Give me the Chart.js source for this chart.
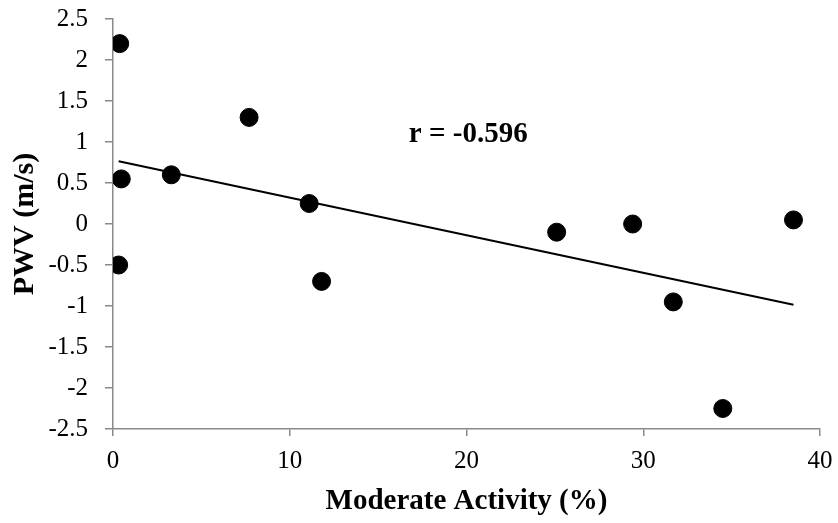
<!DOCTYPE html>
<html>
<head>
<meta charset="utf-8">
<script src="https://cdn.jsdelivr.net/npm/chart.js@4"></script>
<style>
html,body{margin:0;padding:0;background:#fff;}
#wrap{width:838px;height:523px;}
</style>
</head>
<body>
<div id="wrap"><canvas id="c" width="838" height="523"></canvas></div>
<script>
// Data
const moderateActivity = [0.38, 0.47, 0.32, 3.3, 7.7, 11.1, 11.8, 25.1, 29.4, 31.7, 34.5, 38.5];
const pwv = [2.2, 0.55, -0.5, 0.6, 1.3, 0.25, -0.7, -0.1, 0.0, -0.95, -2.25, 0.05];
const xTicks = [0, 10, 20, 30, 40];
const yTicks = [2.5, 2, 1.5, 1, 0.5, 0, -0.5, -1, -1.5, -2, -2.5];
const xTitle = 'Moderate Activity (%)';
const yTitle = 'PWV (m/s)';
const annotationPos = [20.1, 1.09];

// Least-squares trendline and correlation from the data
const n = moderateActivity.length;
const mx = moderateActivity.reduce((a,b)=>a+b,0)/n;
const my = pwv.reduce((a,b)=>a+b,0)/n;
let sxy=0, sxx=0, syy=0;
for (let i=0;i<n;i++){const dx=moderateActivity[i]-mx, dy=pwv[i]-my; sxy+=dx*dy; sxx+=dx*dx; syy+=dy*dy;}
const slope = sxy/sxx, intercept = my - slope*mx;
const r = sxy/Math.sqrt(sxx*syy);
const xMin = Math.min(...moderateActivity), xMax = Math.max(...moderateActivity);
const trend = [{x:xMin, y:intercept+slope*xMin},{x:xMax, y:intercept+slope*xMax}];

const points = moderateActivity.map((x,i)=>({x:x, y:pwv[i]}));
const FONT = "'Liberation Serif', 'Times New Roman', serif";
const AXIS = '#898989';

const annotate = {
  id:'annotate',
  afterDatasetsDraw(chart){
    const ctx = chart.ctx;
    const xs = chart.scales.x, ys = chart.scales.y;
    ctx.save();
    ctx.font = 'bold 29px ' + FONT;
    ctx.fillStyle = '#000';
    ctx.textAlign = 'center';
    ctx.textBaseline = 'middle';
    ctx.fillText('r = ' + r.toFixed(3), xs.getPixelForValue(annotationPos[0]), ys.getPixelForValue(annotationPos[1]));
    ctx.restore();
  }
};

new Chart(document.getElementById('c'), {
  type:'scatter',
  data:{
    datasets:[
      {label:'trend', type:'line', data:trend, borderColor:'#000', borderWidth:2, pointRadius:0, fill:false, order:2},
      {label:'PWV', data:points, backgroundColor:'#000', borderColor:'#000', pointRadius:9, pointHoverRadius:9, order:1}
    ]
  },
  options:{
    responsive:false,
    animation:false,
    devicePixelRatio:1,
    layout:{padding:{left:0,right:18,top:19,bottom:0}},
    plugins:{legend:{display:false}, tooltip:{enabled:false}},
    scales:{
      x:{
        type:'linear', min:0, max:40,
        afterBuildTicks(s){ s.ticks = xTicks.map(v=>({value:v})); },
        afterFit(s){ s.height = 94; s.paddingLeft = 0; s.paddingRight = 0; },
        grid:{display:true, drawOnChartArea:false, drawTicks:true, tickLength:7, color:AXIS, lineWidth:1.5},
        border:{display:true, color:AXIS, width:1.5},
        ticks:{color:'#000', font:{family:FONT, size:25}, padding:10, maxRotation:0},
        title:{display:true, text:xTitle, color:'#000', font:{family:FONT, size:29, weight:'bold'}, padding:{top:0,bottom:4}}
      },
      y:{
        type:'linear', min:-2.5, max:2.5,
        afterBuildTicks(s){ s.ticks = yTicks.map(v=>({value:v})); },
        afterFit(s){ s.width = 113; s.paddingTop = 0; s.paddingBottom = 0; },
        grid:{display:true, drawOnChartArea:false, drawTicks:true, tickLength:8, color:AXIS, lineWidth:1.5},
        border:{display:true, color:AXIS, width:1.5},
        ticks:{color:'#000', font:{family:FONT, size:25}, padding:17, callback:v=>String(v)},
        title:{display:true, text:yTitle, color:'#000', font:{family:FONT, size:30, weight:'bold'}, padding:{top:7,bottom:0}}
      }
    }
  },
  plugins:[annotate]
});
</script>
</body>
</html>
